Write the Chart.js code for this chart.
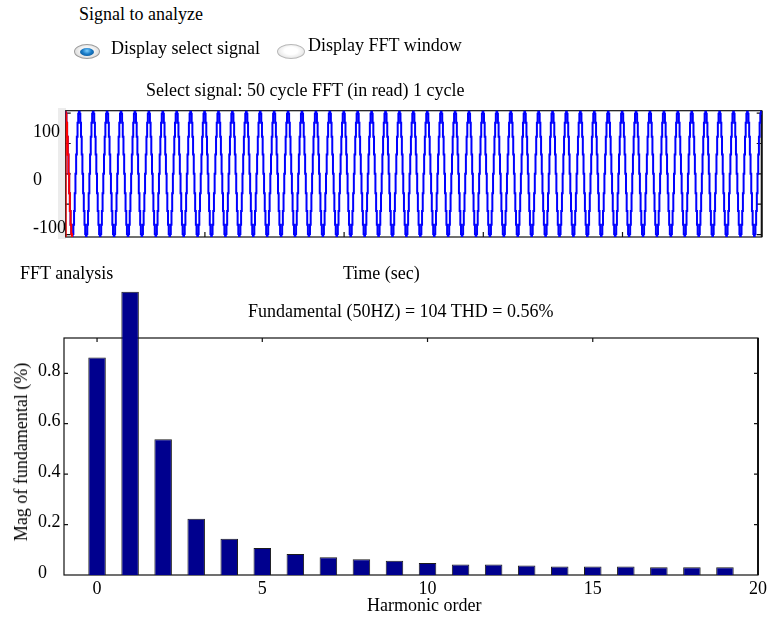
<!DOCTYPE html>
<html>
<head>
<meta charset="utf-8">
<script src="https://cdn.jsdelivr.net/npm/chart.js@4.4.1/dist/chart.umd.min.js"></script>
<style>
  html, body { margin: 0; padding: 0; background: #fff; }
  #stage { position: relative; width: 777px; height: 620px; overflow: hidden;
           font-family: 'Liberation Serif', 'Times New Roman', serif; font-size: 18px; color: #000; }
  .txt { position: absolute; white-space: nowrap; line-height: 18px; z-index: 3; }
  canvas { position: absolute; left: 0; z-index: 2; }
  .strip { position: absolute; left: 58px; top: 108px; width: 8px; height: 131px; background: #ececec; z-index: 1; }
  .radio { position: absolute; border-radius: 50%; box-sizing: border-box; z-index: 3; }
  .radio.on { left: 74px; top: 44px; width: 26px; height: 15px; border: 1px solid #9c9c9c;
              background: radial-gradient(ellipse at 50% 45%, #f4f4f4 40%, #c9c9c9 100%); }
  .radio.on span { position: absolute; left: 5px; top: 2.5px; width: 14px; height: 8px; border-radius: 50%;
                   background: radial-gradient(ellipse at 50% 35%, #7fd0ff 0%, #1a7cc8 45%, #054a86 100%); }
  .radio.off { left: 277px; top: 44px; width: 28px; height: 15px; border: 1px solid #b8b8b8;
               background: radial-gradient(ellipse at 50% 45%, #ffffff 35%, #d6d6d6 100%); }
  .ytitle { left: 21px; top: 452px; transform: translate(-50%, -50%) rotate(-90deg); }
</style>
</head>
<body>
<div id="stage">
  <div class="strip"></div>
  <canvas id="signalChart" width="777" height="150" style="top:100px"></canvas>
  <canvas id="fftChart" width="777" height="340" style="top:280px"></canvas>

  <div class="txt" style="left:79px;top:5px">Signal to analyze</div>
  <div class="radio on"><span></span></div>
  <div class="txt" style="left:111px;top:39px">Display select signal</div>
  <div class="radio off"></div>
  <div class="txt" style="left:308px;top:36px">Display FFT window</div>
  <div class="txt" style="left:146px;top:81px">Select signal: 50 cycle FFT (in read) 1 cycle</div>
  <div class="txt" style="left:20px;top:264px">FFT analysis</div>
  <div class="txt" style="left:343px;top:264px">Time (sec)</div>
  <div class="txt" style="left:248px;top:302px">Fundamental (50HZ) = 104 THD = 0.56%</div>
  <div class="txt" style="left:367px;top:596px">Harmonic order</div>
  <div class="txt ytitle">Mag of fundamental (%)</div>
</div>

<script>
// ---- Signal (time domain) ----
// One sampled cycle of the analysed signal (amplitude ~104), 1 ms sample step.
const signalCycle = [104, 99, 84, 61, 32, 0, -32, -61, -84, -99,
                     -104, -99, -84, -61, -32, 0, 32, 61, 84, 99];
const cycleCount = 50;
const sampleStep = 0.001;              // seconds
const windowSamples = 11;              // highlighted FFT window part at the start
const signalTickLabels = [-100, 0, 100];
const signalTickMarks = [-100, -50, 0, 50, 100];
const timeTickMarks = [0.2, 0.4, 0.6, 0.8];

// ---- FFT analysis ----
const harmonicOrder = [0, 1, 2, 3, 4, 5, 6, 7, 8, 9, 10, 11, 12, 13, 14, 15, 16, 17, 18, 19];
const magnitudePct = [0.863, 1.123, 0.538, 0.223, 0.144, 0.107, 0.083, 0.070, 0.062, 0.057,
                      0.048, 0.042, 0.042, 0.038, 0.034, 0.034, 0.034, 0.031, 0.031, 0.031];
const harmonicTicks = [0, 5, 10, 15, 20];
const magnitudeTicks = [0, 0.2, 0.4, 0.6, 0.8];

Chart.defaults.font.family = "'Liberation Serif', 'Times New Roman', serif";
Chart.defaults.font.size = 18;
Chart.defaults.color = '#000';

// Axes box with MATLAB-style inward tick marks.
const frameTicks = {
  id: 'frameTicks',
  beforeDatasetsDraw(chart, args, opts) {
    const { ctx, chartArea: a, scales } = chart;
    const len = opts.tickLength;
    ctx.save();
    ctx.strokeStyle = '#111';
    ctx.lineWidth = 1.2;
    ctx.strokeRect(a.left, a.top, a.right - a.left, a.bottom - a.top);
    ctx.lineWidth = 2;
    ctx.beginPath();
    ctx.moveTo(a.right, a.top); ctx.lineTo(a.right, a.bottom);
    ctx.stroke();
    ctx.lineWidth = 1.2;
    ctx.beginPath();
    (opts.yTicks || []).forEach(v => {
      const y = scales[opts.yScale].getPixelForValue(v);
      ctx.moveTo(a.left, y); ctx.lineTo(a.left + len, y);
      ctx.moveTo(a.right, y); ctx.lineTo(a.right - len, y);
    });
    (opts.xTicks || []).forEach(v => {
      const x = scales.x.getPixelForValue(v);
      ctx.moveTo(x, a.bottom); ctx.lineTo(x, a.bottom - len);
      if (opts.topTicks) { ctx.moveTo(x, a.top); ctx.lineTo(x, a.top + len); }
    });
    ctx.stroke();
    ctx.restore();
  }
};

// Build the sampled signal by repeating the cycle.
const signalPoints = [];
for (let c = 0; c < cycleCount; c++) {
  signalCycle.forEach((v, k) => {
    signalPoints.push({ x: (c * signalCycle.length + k) * sampleStep, y: v });
  });
}
signalPoints.push({ x: cycleCount * signalCycle.length * sampleStep, y: signalCycle[0] });

// Highlighted window: rising edge at t = 0, then the first samples.
const windowPoints = [{ x: 0, y: signalCycle[windowSamples - 1] }]
  .concat(signalPoints.slice(0, windowSamples));

new Chart(document.getElementById('signalChart'), {
  type: 'line',
  data: {
    datasets: [
      { data: windowPoints, borderColor: '#ff0000', borderWidth: 2, pointRadius: 0,
        stepped: 'after', yAxisID: 'y', order: 0 },
      { data: signalPoints, borderColor: '#0000ff', borderWidth: 2, pointRadius: 0,
        stepped: 'after', yAxisID: 'y', order: 1 }
    ]
  },
  options: {
    responsive: false, animation: false, devicePixelRatio: 1,
    layout: { padding: { left: 33, right: 15.3, top: 10.7, bottom: 13 } },
    plugins: {
      legend: { display: false }, tooltip: { enabled: false },
      frameTicks: { tickLength: 5, yScale: 'y', yTicks: signalTickMarks, xTicks: timeTickMarks }
    },
    scales: {
      x: { type: 'linear', min: 0, max: 1, display: false },
      y: { min: -104, max: 104, display: false },
      yLab: {
        position: 'left', min: -121.5, max: 141.7,
        grid: { display: false }, border: { display: false },
        afterBuildTicks: s => { s.ticks = signalTickLabels.map(v => ({ value: v })); },
        ticks: { crossAlign: 'far', padding: 0, labelOffset: 2, callback: v => String(v) },
        afterFit: s => { s.width = 32.7; s.paddingTop = 0; s.paddingBottom = 0; }
      }
    }
  },
  plugins: [frameTicks]
});

new Chart(document.getElementById('fftChart'), {
  type: 'bar',
  data: {
    datasets: [{
      data: harmonicOrder.map((h, i) => ({ x: h, y: magnitudePct[i] })),
      backgroundColor: '#00008e', borderColor: '#1c1c1c', borderWidth: 1,
      categoryPercentage: 1, barPercentage: 0.53, clip: false
    }]
  },
  options: {
    responsive: false, animation: false, devicePixelRatio: 1,
    layout: { padding: { left: 38, right: 19, top: 58, bottom: 0 } },
    plugins: {
      legend: { display: false }, tooltip: { enabled: false },
      frameTicks: { tickLength: 4, yScale: 'y', yTicks: magnitudeTicks.slice(1),
                    xTicks: harmonicTicks.slice(0, 4), topTicks: true }
    },
    scales: {
      x: {
        type: 'linear', min: -1, max: 20, offset: false,
        grid: { display: false, offset: false }, border: { display: false },
        afterBuildTicks: s => { s.ticks = harmonicTicks.map(v => ({ value: v })); },
        ticks: { padding: -5, maxRotation: 0, autoSkip: false, callback: v => String(v) },
        afterFit: s => { s.height = 45; s.paddingLeft = 0; s.paddingRight = 0; }
      },
      y: {
        min: 0, max: 0.94,
        grid: { display: false }, border: { display: false },
        afterBuildTicks: s => { s.ticks = magnitudeTicks.map(v => ({ value: v })); },
        ticks: { crossAlign: 'far', padding: 0, labelOffset: -2, callback: v => String(v) },
        afterFit: s => { s.width = 26; s.paddingTop = 0; s.paddingBottom = 0; }
      }
    }
  },
  plugins: [frameTicks]
});
</script>
</body>
</html>
